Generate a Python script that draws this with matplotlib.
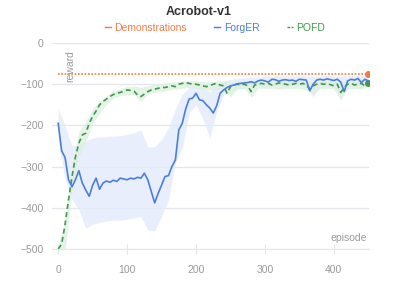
import numpy as np
import matplotlib.pyplot as plt
from matplotlib.lines import Line2D

plt.rcParams['font.family'] = ['Liberation Sans', 'DejaVu Sans']

# ---- data ----
episodes = list(range(0, 451, 5))
forger = [-195, -262, -278, -332, -349, -332, -310, -340, -357, -372,
          -345, -328, -355, -340, -335, -338, -333, -336, -328, -330,
          -332, -328, -330, -326, -328, -316, -332, -360, -388, -365,
          -345, -324, -322, -300, -284, -211, -195, -160, -136, -134,
          -122, -138, -140, -150, -158, -170, -152, -122, -114, -108,
          -104, -102, -99, -98, -97, -96, -94, -97, -92, -90,
          -92, -95, -88, -89, -93, -90, -89, -91, -90, -93,
          -88, -89, -90, -116, -100, -90, -88, -90, -87, -89,
          -91, -88, -95, -118, -92, -88, -90, -86, -96, -88, -92]
pofd = [-500, -488, -440, -380, -325, -276, -243, -223, -219, -195,
        -178, -165, -150, -142, -136, -130, -125, -122, -120, -117,
        -114, -115, -117, -126, -130, -124, -118, -114, -112, -110,
        -108, -108, -106, -104, -106, -100, -98, -96, -98, -100,
        -100, -102, -104, -106, -104, -100, -98, -102, -104, -122,
        -106, -102, -100, -102, -100, -104, -118, -102, -100, -98,
        -100, -98, -102, -100, -97, -98, -100, -102, -100, -98,
        -100, -98, -102, -112, -104, -100, -98, -100, -99, -101,
        -104, -100, -120, -108, -100, -98, -102, -100, -98, -104, -97]

band_eps = list(range(0, 451, 10))
forger_hi = [-160, -200, -250, -245, -238, -230, -228, -227, -226, -225,
             -222, -218, -211, -252, -252, -235, -205, -160, -125, -108,
             -100, -108, -118, -100, -92, -88, -86, -84, -82, -82,
             -80, -82, -78, -80, -80, -79, -80, -82, -80, -78,
             -80, -80, -80, -78, -78, -80]
forger_lo = [-235, -330, -380, -405, -450, -440, -435, -432, -430, -430,
             -428, -425, -421, -454, -456, -421, -381, -290, -255, -170,
             -150, -185, -230, -165, -125, -118, -112, -110, -106, -104,
             -108, -104, -102, -106, -104, -102, -108, -130, -104, -102,
             -106, -140, -104, -102, -108, -104]
pofd_hi = [-490, -440, -300, -215, -190, -160, -142, -128, -116, -110,
           -106, -104, -108, -104, -100, -98, -96, -94, -92, -92,
           -92, -94, -94, -92, -92, -94, -92, -92, -90, -92,
           -92, -90, -90, -90, -92, -90, -92, -94, -92, -90,
           -92, -92, -92, -90, -92, -90]
pofd_lo = [-500, -500, -360, -275, -240, -195, -170, -148, -134, -128,
           -126, -124, -142, -124, -120, -118, -114, -112, -110, -108,
           -110, -112, -114, -112, -112, -130, -112, -110, -132, -110,
           -110, -110, -112, -110, -110, -110, -114, -125, -110, -110,
           -112, -135, -112, -110, -112, -106]

demo_eps = [0, 450]
demo_reward = [-75, -75]
yticks = [0, -100, -200, -300, -400, -500]
xticks = [0, 100, 200, 300, 400]

c_demo = '#f07c45'
c_forger = '#4a7fdc'
c_pofd = '#3c9a4c'
grid_c = '#e3e6ec'
text_c = '#9a9a9a'

fig = plt.figure(figsize=(3.99, 2.82), dpi=100)
ax = fig.add_axes([52 / 399, 1 - 249 / 282, 317 / 399, 206 / 282])

ax.fill_between(band_eps, forger_lo, forger_hi, color='#e4ecfb', alpha=0.85, lw=0)
ax.fill_between(band_eps, pofd_lo, pofd_hi, color='#dff0e0', alpha=0.8, lw=0)

ax.plot(demo_eps, demo_reward, color=c_demo, lw=1.2, ls=(0, (1, 1)))
ax.plot(demo_eps[-1:], demo_reward[-1:], 'o', color=c_demo, ms=4)
ax.plot(episodes, pofd, color=c_pofd, lw=1.2, ls=(0, (3, 2)))
ax.plot(episodes[-1:], pofd[-1:], 'o', color=c_pofd, ms=4)
ax.plot(episodes, forger, color=c_forger, lw=1.2)

ax.set_xlim(-9, 451)
ax.set_ylim(-500, 0)
ax.set_yticks(yticks)
ax.set_xticks(xticks)
ax.grid(axis='y', color=grid_c, lw=0.9)
ax.set_axisbelow(True)
for s in ['top', 'right', 'left']:
    ax.spines[s].set_visible(False)
ax.spines['bottom'].set_color(grid_c)
ax.tick_params(axis='y', length=0, pad=6, labelsize=7.5, labelcolor=text_c)
ax.tick_params(axis='x', length=7, direction='inout', color=grid_c,
               pad=8, labelsize=7.5, labelcolor=text_c)

ax.text(0.995, 0.03, 'episode', transform=ax.transAxes, ha='right', va='bottom',
        fontsize=7.5, color=text_c)
ax.text(18 / 317, 1 - 7 / 206, 'reward', transform=ax.transAxes, rotation=90,
        ha='center', va='top', fontsize=7.5, color=text_c)

fig.text(199 / 399, 1 - 12 / 282, 'Acrobot-v1', ha='center', va='center',
         fontsize=9, fontweight='bold', color='#333333')

handles = [Line2D([], [], color=c_demo, lw=1),
           Line2D([], [], color=c_forger, lw=1),
           Line2D([], [], color=c_pofd, lw=1, ls=(0, (2, 1)))]
leg = fig.legend(handles, ['Demonstrations', 'ForgER', 'POFD'],
                 loc='center', bbox_to_anchor=(215 / 399, 1 - 28 / 282),
                 ncol=3, frameon=False, fontsize=7.5, handlelength=0.6,
                 handletextpad=0.35, columnspacing=2.6)
for t, c in zip(leg.get_texts(), [c_demo, c_forger, c_pofd]):
    t.set_color(c)

fig.savefig('out.png', dpi=100)
